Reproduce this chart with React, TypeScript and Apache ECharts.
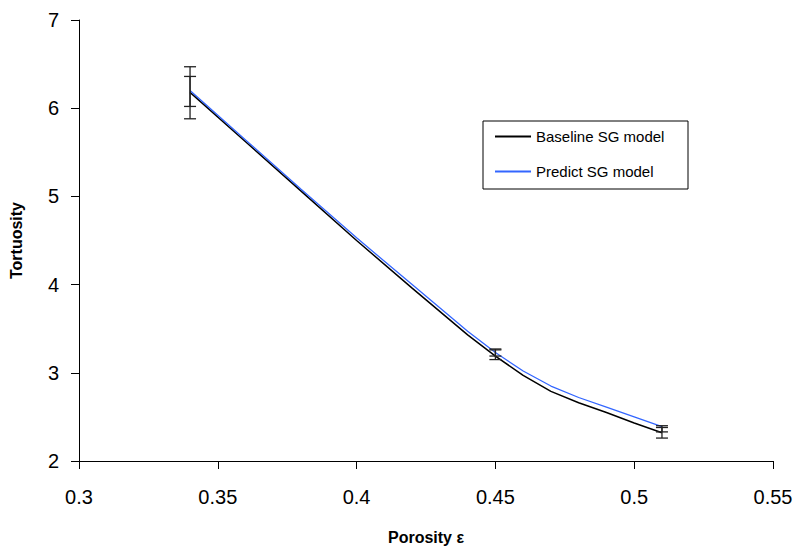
import React, { useEffect, useRef } from "react";
import * as echarts from "echarts";

const porosity = [0.34, 0.36, 0.38, 0.4, 0.42, 0.44, 0.45, 0.46, 0.47, 0.48, 0.49, 0.5, 0.51];
const baseline = [6.18, 5.62, 5.06, 4.5, 3.96, 3.43, 3.19, 2.97, 2.79, 2.66, 2.55, 2.43, 2.32];
const predict = [6.2, 5.64, 5.08, 4.53, 4.0, 3.47, 3.23, 3.02, 2.85, 2.72, 2.61, 2.5, 2.39];

// error bars: [porosity, low, high]
const baselineErr = [
  [0.34, 5.88, 6.47],
  [0.45, 3.15, 3.26],
  [0.51, 2.26, 2.38],
];
const predictErr = [
  [0.34, 6.02, 6.36],
  [0.45, 3.19, 3.27],
  [0.51, 2.33, 2.4],
];

const xTicks = [0.3, 0.35, 0.4, 0.45, 0.5, 0.55];
const yTicks = [2, 3, 4, 5, 6, 7];

const FONT = "'Liberation Sans', Arial, sans-serif";

function errRender(params: any, api: any) {
  const x = api.value(0);
  const p1 = api.coord([x, api.value(1)]);
  const p2 = api.coord([x, api.value(2)]);
  const hw = 6;
  const style = { stroke: "#222", lineWidth: 1.3 };
  return {
    type: "group",
    children: [
      { type: "line", shape: { x1: p1[0], y1: p1[1], x2: p2[0], y2: p2[1] }, style },
      { type: "line", shape: { x1: p1[0] - hw, y1: p1[1], x2: p1[0] + hw, y2: p1[1] }, style },
      { type: "line", shape: { x1: p2[0] - hw, y1: p2[1], x2: p2[0] + hw, y2: p2[1] }, style },
    ],
  };
}

export default function App() {
  const ref = useRef<HTMLDivElement>(null);
  useEffect(() => {
    if (!ref.current) return;
    const chart = echarts.init(ref.current, null, { renderer: "svg" });
    chart.setOption({
      animation: false,
      backgroundColor: "#fff",
      grid: { left: 79, right: 32, top: 20, bottom: 93, containLabel: false },
      xAxis: {
        type: "value",
        min: 0.3,
        max: 0.55,
        interval: 0.05,
        name: "Porosity ε",
        nameLocation: "middle",
        nameGap: 68,
        nameTextStyle: { fontFamily: FONT, fontSize: 16, fontWeight: "bold", color: "#000" },
        axisLine: { lineStyle: { color: "#000", width: 1 } },
        axisTick: { show: true, inside: false, length: 8, lineStyle: { color: "#000" } },
        axisLabel: {
          margin: 26,
          fontFamily: FONT,
          fontSize: 20,
          color: "#000",
          formatter: (v: number) => {
            const t = xTicks.find((k) => Math.abs(k - v) < 1e-6);
            return t === undefined ? "" : String(t);
          },
        },
        splitLine: { show: false },
      },
      yAxis: {
        type: "value",
        min: 2,
        max: 7,
        interval: 1,
        name: "Tortuosity",
        nameLocation: "middle",
        nameGap: 55,
        nameRotate: 90,
        nameTextStyle: { fontFamily: FONT, fontSize: 16, fontWeight: "bold", color: "#000" },
        axisLine: { show: true, lineStyle: { color: "#000", width: 1 } },
        axisTick: { show: true, inside: false, length: 8, lineStyle: { color: "#000" } },
        axisLabel: {
          margin: 20,
          fontFamily: FONT,
          fontSize: 20,
          color: "#000",
          formatter: (v: number) => {
            const t = yTicks.find((k) => Math.abs(k - v) < 1e-6);
            return t === undefined ? "" : String(t);
          },
        },
        splitLine: { show: false },
      },
      legend: {
        orient: "vertical",
        left: 485,
        top: 121,
        padding: [8, 8, 7, 10],
        itemGap: 20,
        itemWidth: 36,
        itemHeight: 2,
        icon: "rect",
        textStyle: { fontFamily: FONT, fontSize: 15, color: "#000" },
        data: ["Baseline SG model", "Predict SG model"],
      },
      graphic: [
        {
          type: "rect",
          shape: { x: 483, y: 121, width: 205, height: 68 },
          style: { fill: "none", stroke: "#000", lineWidth: 1 },
          z: 100,
        },
      ],
      series: [
        {
          name: "Baseline SG model",
          type: "line",
          data: porosity.map((x, i) => [x, baseline[i]]),
          showSymbol: false,
          symbol: "none",
          lineStyle: { color: "#000", width: 1.5 },
          itemStyle: { color: "#000" },
          z: 2,
        },
        {
          name: "Predict SG model",
          type: "line",
          data: porosity.map((x, i) => [x, predict[i]]),
          showSymbol: false,
          symbol: "none",
          lineStyle: { color: "#3366ff", width: 1.3 },
          itemStyle: { color: "#3366ff" },
          z: 3,
        },
        {
          type: "custom",
          renderItem: errRender,
          data: baselineErr,
          z: 4,
        },
        {
          type: "custom",
          renderItem: errRender,
          data: predictErr,
          z: 4,
        },
      ],
    });
    return () => chart.dispose();
  }, []);
  return <div ref={ref} style={{ width: 805, height: 554, position: "absolute", left: 0, top: 0 }} />;
}
